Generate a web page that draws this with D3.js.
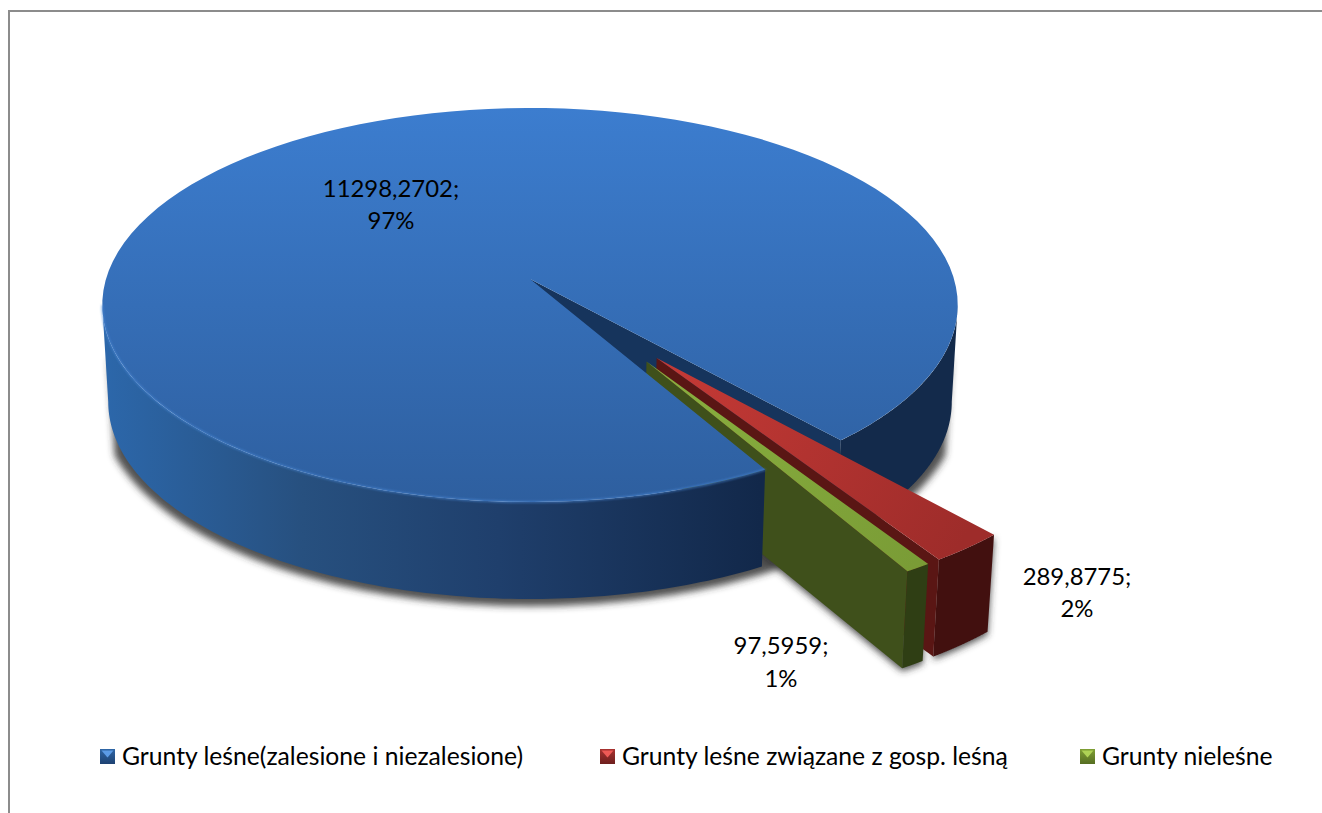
<!DOCTYPE html>
<html><head><meta charset="utf-8">
<script src="https://cdn.jsdelivr.net/npm/d3@7"></script>
<style>html,body{margin:0;padding:0;background:#fff}svg{display:block}text{font-family:Lato,"Open Sans",sans-serif;fill:#000}</style>
</head><body>
<svg id="c" width="1322" height="813"></svg>
<script>
const categories = ["Grunty leśne(zalesione i niezalesione)", "Grunty leśne związane z gosp. leśną", "Grunty nieleśne"];
const values = [11298.2702, 289.8775, 97.5959];
const valueLabels = ["11298,2702;", "289,8775;", "97,5959;"];
const percentLabels = ["97%", "2%", "1%"];

const W = 1322, H = 813;
const FS_LABEL = 23.9, FS_LEGEND = 24.7;
const svg = d3.select("#c");
const defs = svg.append("defs");
const rad = d => d * Math.PI / 180;

// pie layout, clockwise from the front of the disc
const START = rad(150.6);
const slices = d3.pie().sort(null).startAngle(START).endAngle(START + 2 * Math.PI)(values);

// perspective projection of the unit disc
const K = 0.132, A = 424, B = 193.6, CX = 530, CY = 279, DEPTH = 97, SHRINK = 0.986;
const px = d3.scaleLinear().domain([0, 1]).range([CX, CX + A]);
const py = d3.scaleLinear().domain([0, 1]).range([CY, CY + B]);
const proj = (u, v) => [px(u / (1 - K * v)), py(v / (1 - K * v))];
const lower = p => [CX + (p[0] - CX) * SHRINK, p[1] + DEPTH];
const line = d3.line().curve(d3.curveLinear);
const disc = (a, r, o) => [o[0] + r * Math.sin(a), o[1] - r * Math.cos(a)];
const pt = (a, r, o) => { const d = disc(a, r, o); return proj(d[0], d[1]); };
const arcPts = (a0, a1, r, o) => d3.range(0, 121).map(i => pt(a0 + (a1 - a0) * i / 120, r, o));
const band = pts => line(pts.concat(pts.map(lower).reverse())) + "Z";

function grad(id, x1, y1, x2, y2, stops) {
  const g = defs.append("linearGradient").attr("id", id).attr("gradientUnits", "userSpaceOnUse")
    .attr("x1", x1).attr("y1", y1).attr("x2", x2).attr("y2", y2);
  stops.forEach(s => g.append("stop").attr("offset", s[0]).attr("stop-color", s[1]));
}
grad("blueTop", 0, 108, 0, 502, [[0, "#3c7dcf"], [1, "#2e5f9f"]]);
grad("blueWall", 106, 0, 760, 0, [[0, "#2c67aa"], [0.3, "#27507f"], [0.6, "#1f3f6c"], [1, "#12284a"]]);
grad("redTop", 657, 358, 960, 545, [[0, "#c63a36"], [1, "#9e2c2a"]]);
grad("greenTop", 647, 362, 915, 565, [[0, "#8ab03f"], [1, "#7a9c36"]]);
[["keyB", "#2f66a6", "#1e4272"], ["keyR", "#a83230", "#6e1f1e"], ["keyG", "#7f9f35", "#566e22"]]
  .forEach(k => grad(k[0], 0, 749, 0, 764, [[0, k[1]], [1, k[2]]]));
const blur = defs.append("filter").attr("id", "sh").attr("x", "-10%").attr("y", "-10%").attr("width", "120%").attr("height", "120%");
blur.append("feGaussianBlur").attr("stdDeviation", 3.5);
const soft = defs.append("filter").attr("id", "soft").attr("x", "-5%").attr("y", "-5%").attr("width", "110%").attr("height", "110%");
soft.append("feGaussianBlur").attr("stdDeviation", 0.8);

// frame
svg.append("path").attr("d", `M9 ${H}V11H${W}`).attr("fill", "none").attr("stroke", "#8c8c8c").attr("stroke-width", 2);

const EXPLODE = 0.48, R2 = 0.982;
const blue = slices[0], red = slices[1], green = slices[2];
const mid = s => (s.startAngle + s.endAngle) / 2;
const O0 = [0, 0], O1 = disc(mid(red) + rad(0.7), EXPLODE, O0), O2 = disc(mid(green) - rad(1.9), EXPLODE, O0);

// silhouette angles of the disc in perspective
const SIL_R = Math.acos(-K), SIL_L = 2 * Math.PI - SIL_R;
const blueEnd = blue.endAngle, blueStart = blue.startAngle;
const full = arcPts(blueStart, blueEnd, 1, O0);
const rightRim = arcPts(SIL_R, blueEnd - 2 * Math.PI, 1, O0);
const leftRim = arcPts(blueStart, SIL_L, 1, O0);
const apex = proj(0, 0);
const redRim = arcPts(red.startAngle, red.endAngle, R2, O1);
const greenRim = arcPts(green.startAngle, green.endAngle, R2, O2);
const apexR = proj(O1[0], O1[1]), apexG = proj(O2[0], O2[1]);
const e = (arr, i) => arr[i < 0 ? arr.length + i : i];

// shadow under all the walls
const shadow = svg.append("g").attr("filter", "url(#sh)").attr("fill", "#333").attr("fill-opacity", 0.85).attr("transform", "translate(0,3)");
shadow.append("path").attr("d", band(arcPts(SIL_R + rad(14), SIL_L - rad(14), 1.016, O0)));
shadow.append("path").attr("d", band(redRim));
shadow.append("path").attr("d", band([apexG, e(greenRim, -1)]));
shadow.append("path").attr("d", band(greenRim));

// cut wall of the large slice, far side of the notch
svg.append("path").attr("d", band([apex, e(full, -1)])).attr("fill", "#16345c");
svg.append("path").attr("d", band(rightRim)).attr("fill", "#132a4b");

// exploded red slice
svg.append("path").attr("d", band(redRim)).attr("fill", "#42100f");
svg.append("path").attr("d", band([apexR, e(redRim, -1)])).attr("fill", "#5a1614");
svg.append("path").attr("d", line([apexR].concat(redRim)) + "Z").attr("fill", "url(#redTop)");

// exploded green slice
svg.append("path").attr("d", band(greenRim)).attr("fill", "#2f3e14");
svg.append("path").attr("d", band([apexG, e(greenRim, -1)])).attr("fill", "#3f501b");

// large slice
svg.append("path").attr("d", band(leftRim)).attr("fill", "url(#blueWall)");
svg.append("path").attr("d", line([apex].concat(full)) + "Z").attr("fill", "url(#blueTop)");
svg.append("path").attr("d", line(leftRim)).attr("fill", "none").attr("stroke", "#4b8ad8").attr("stroke-width", 1.6).attr("stroke-opacity", 0.75).attr("filter", "url(#soft)");

svg.append("path").attr("d", line([apexG].concat(greenRim)) + "Z").attr("fill", "url(#greenTop)");

// data labels
const labelAt = [[391, 197], [1077, 585], [781, 654]];
const pitch = [32, 32, 33];
values.forEach((v, i) => {
  const t = svg.append("text").attr("text-anchor", "middle").attr("font-size", FS_LABEL);
  t.append("tspan").attr("x", labelAt[i][0]).attr("y", labelAt[i][1]).text(valueLabels[i]);
  t.append("tspan").attr("x", labelAt[i][0]).attr("y", labelAt[i][1] + pitch[i]).text(percentLabels[i]);
});

// legend
const keyX = [100, 600, 1080], keyFill = ["keyB", "keyR", "keyG"], keyTip = ["#5c9be6", "#ee5a56", "#aed255"];
const legendX = d3.scaleOrdinal().domain(categories).range(keyX);
categories.forEach((c, i) => {
  const x = legendX(c), g = svg.append("g");
  g.append("rect").attr("x", x).attr("y", 749).attr("width", 15).attr("height", 15).attr("fill", `url(#${keyFill[i]})`);
  g.append("path").attr("d", line([[x + 1.5, 750.5], [x + 13.5, 750.5], [x + 7.5, 757.5]]) + "Z").attr("fill", keyTip[i]);
  svg.append("text").attr("x", x + 22).attr("y", 765).attr("font-size", FS_LEGEND).text(c);
});
</script>
</body></html>
